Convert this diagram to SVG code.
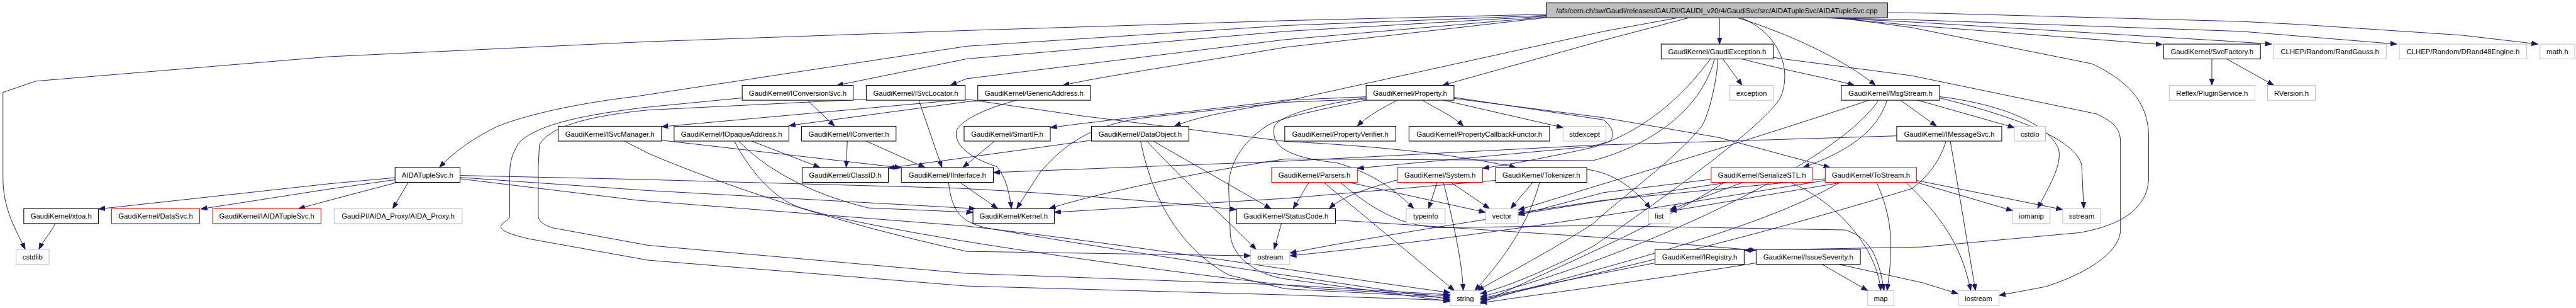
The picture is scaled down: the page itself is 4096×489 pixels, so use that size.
<svg xmlns="http://www.w3.org/2000/svg" width="4096" height="489" viewBox="0 0 4096 489">
<style>
text{font-family:"Liberation Sans",Arial,sans-serif;font-size:13px;text-anchor:middle;fill:#000}
rect{stroke-width:1.2}
.b rect{fill:#fff;stroke:#000}
.g rect{fill:#fff;stroke:#bfbfbf}
.r rect{fill:#fff;stroke:#f00}
.root rect{fill:#bfbfbf;stroke:#000}
#edges path{fill:none;stroke:#191970;stroke-width:1.1;marker-end:url(#ah)}
</style>
<defs>
<marker id="ah" markerWidth="12" markerHeight="9" refX="12" refY="4.5" orient="auto" markerUnits="userSpaceOnUse"><path d="M0,0 L12,4.5 L0,9 z" fill="#191970" stroke="#191970" stroke-width="0.8"/></marker>
</defs>
<rect x="0" y="0" width="4096" height="489" fill="#fff"/>
<g transform="scale(0.87335)">
<g id="edges">
<path d="M2815.3,26 L2340,37.5 L1760,55.4 L1180,75.7 L600,103 L65,147.5 L5.4,168 L5.4,321 C5.4,375 22,405 46,453.4"/>
<path d="M2815.3,28 L2340,46.4 L1760,84 L1160,175 C1050,188 960,208 905,230 C865,250 830,272 800,304.5"/>
<path d="M2815.3,29.5 L2340,57 L1760,107 L1523.5,155.2"/>
<path d="M2815.3,31 L2340,72 L1760,143 L1730,155.2"/>
<path d="M2815.3,32 L2340,86 C2150,118 2000,140 1935,155.2"/>
<path d="M3074,32.6 L2920,73 L2626,155.2"/>
<path d="M3053,32.6 L2920,57 L2340,184 C2240,202 2180,212 2138,229.5"/>
<path d="M3130.8,32.6 L3130.8,80.2"/>
<path d="M3164,32.6 C3260,62 3360,110 3414.7,155.2"/>
<path d="M3170,32.6 C3240,60 3265,130 3240,180 C3200,240 3000,380 2900,448 C2800,500 2730,525 2695,534"/>
<path d="M3436.5,23 L3520,24 L4080,39 L4188.6,44.6 L4482,64 L4621,80.2"/>
<path d="M3321,32.6 L3480,36 L4080,57 L4364,80.2"/>
<path d="M3332,32.6 L3480,40 L4060,75 L4136,80.2"/>
<path d="M3340,32.6 L3480,46 L3937,81"/>
<path d="M3350,32.6 L3480,50 L3809,116 C3880,150 3912,190 3912,250 L3912,321 C3912,380 3860,410 3786,423 L3500,449 L3176,455"/>
<path d="M3137,107.2 L3171.7,155.2"/>
<path d="M3171.7,107.2 C3250,128 3330,142 3376.4,155.2"/>
<path d="M3228.3,104.6 L3480,137.5 L3816.7,207 C3850,222 3860.7,235 3860.7,260 L3860.7,418 C3860,450 3820,490 3725,521 L3639.6,537"/>
<path d="M3114,107.2 C3060,180 2990,240 2900,268 C2800,290 2740,300 2699.2,306"/>
<path d="M3121.5,107.2 C3100,190 3020,260 2900,292 L2340,289 C2200,310 2000,350 1910,379.3"/>
<path d="M3127.7,107.2 C3126,150 3110,210 3099,228.6 C3050,290 2950,360 2900,407 C2800,470 2720,510 2690,528.4"/>
<path d="M4027,107.2 L4027,155.2"/>
<path d="M4054,107.2 L4140,155.2"/>
<path d="M2543.8,182.2 C2520,195 2490,210 2471,229.5"/>
<path d="M2589.8,182.2 C2610,195 2645,210 2664.4,229.5"/>
<path d="M2628,182.2 L2845.8,232"/>
<path d="M2487.2,176 L2340,182 C2200,200 2046,214 1912.2,232"/>
<path d="M2487.2,180 L2340,186 L2084,214 C1977,228 1931,271 1893,314 L1851,379.3"/>
<path d="M2487.2,178 C2400,190 2330,210 2320,230 C2315,260 2330,285 2434,296 C2500,315 2540,345 2574,379.3"/>
<path d="M2647.2,177 L2920,218 C2938,232 2940,250 2930,257 L2900,266 L2471.2,306"/>
<path d="M2647.2,179 L2920,214 L3129.6,250 L3332,304.5"/>
<path d="M2487.2,182 C2400,200 2330,214 2306,229 C2260,260 2237,300 2237,340 L2240,428 C2245,470 2290,500 2340,507 L2640.3,548"/>
<path d="M3460,182.2 L3526,229.5"/>
<path d="M3491.5,182.2 L3667.5,232"/>
<path d="M3531.3,175.7 C3640,189 3728,223 3748,271 C3755,300 3730,340 3709.6,379.3"/>
<path d="M3531.3,178 C3700,220 3780,260 3790,300 L3793.8,379.3"/>
<path d="M3435.7,182.2 C3420,230 3380,270 3282.6,304.5"/>
<path d="M3403,182.2 C3200,250 3000,310 2900,340 L2763.9,382"/>
<path d="M3420,182.2 C3350,290 3000,460 2695,540"/>
<path d="M3550.8,256.5 L3596.7,528.4"/>
<path d="M3453.3,247 L2900,264 L2340,293 L1808.5,313.6"/>
<path d="M3543,256.5 C3530,300 3500,330 3480,343 C3200,430 2900,500 2695,545"/>
<path d="M3489.3,331.5 L3664.4,383"/>
<path d="M3489.3,328 L3755.5,381"/>
<path d="M3416.6,331.5 C3447,400 3447,450 3435.7,528.4"/>
<path d="M3323.2,325 L2920,364 L2763.9,387"/>
<path d="M3323.2,328 C3000,380 2700,430 2348.3,465"/>
<path d="M3350,331.5 C3200,420 2900,490 2695,549"/>
<path d="M3355,331.5 L3040.4,384"/>
<path d="M3470,331.5 C3530,390 3570,440 3588,528.4"/>
<path d="M3173.6,331.5 L3040.4,381"/>
<path d="M3259.7,331.5 C3359,375 3420,464 3424,528.4"/>
<path d="M3115.4,326 L2920,350 L2763.9,391"/>
<path d="M3140,331.5 C3000,420 2800,500 2695,552"/>
<path d="M3146.8,331.5 L2900,368 C2700,400 2500,430 2348.3,460"/>
<path d="M2383,331.5 L2354.4,379.3"/>
<path d="M2410,331.5 L2648,528.4"/>
<path d="M2455.8,331.5 L2704.6,386"/>
<path d="M2440,331.5 C2510,390 2560,412 2626,414 L2900,410 L3359,418 C3400,430 3420,460 3430,528.4"/>
<path d="M2616.6,331.5 L2601,379.3"/>
<path d="M2628,331.5 C2650,420 2662,480 2664,528.4"/>
<path d="M2641.5,331.5 L2712,379.3"/>
<path d="M2544.2,327 C2480,345 2440,360 2420,379.3"/>
<path d="M2790.7,331.5 L2750.5,379.3"/>
<path d="M2803,331.5 C2780,420 2720,490 2685,528.4"/>
<path d="M2889,308 C2938,314 2976,343 3005,379.3"/>
<path d="M2723.3,328 L2340,360.7 L1919.5,386"/>
<path d="M1987.2,255 L1740,289 L1617.3,305.5"/>
<path d="M2076.7,256.5 C2095,350 2140,446 2237,500 L2340,525 L2640.3,541"/>
<path d="M2088,256.5 C2161,335 2237,403 2287,453.4"/>
<path d="M2099.7,256.5 L2314,379.3"/>
<path d="M1542.6,256.5 L1540.7,304.5"/>
<path d="M1577,256.5 L1684.2,304.5"/>
<path d="M1368.5,256.5 L1492.9,304.5"/>
<path d="M1345,256.5 C1390,303 1466,350 1581,378 L1771.4,386"/>
<path d="M1337,256.5 C1370,320 1420,370 1466,380 C1600,420 2000,480 2400,525 L2640.3,538"/>
<path d="M1470,182.2 L1519.7,229.5"/>
<path d="M1351.3,178 L1180,194.6 C1050,210 980,228 947,257 C930,280 928,300 928,320 L928,393 C928,400 912,405 912,412 C912,420 930,426 962,434 L1180,473 L1760,520 L2340,536 L2640.3,546"/>
<path d="M1672.8,182.2 L1714.9,304.5"/>
<path d="M1577.1,180.4 L1180,200 C1080,210 1000,228 982,264 L980,304 L980,393 C980,405 1000,414 1016,416 L1180,446 L1760,497 L2340,518 L2640.3,536"/>
<path d="M1740,182.2 L1204.4,230.4"/>
<path d="M1757.2,180 L1969.6,210.7 L2340,257 C2500,265 2650,280 2760,304.5"/>
<path d="M1204.4,255 L1641,305"/>
<path d="M1136.8,256.5 L1180,278.6 C1300,330 1500,400 1760,457 L2277.2,465"/>
<path d="M719.3,323 L600,334 L179.3,380"/>
<path d="M719.3,326.8 L600,343.6 L365.4,380"/>
<path d="M723.5,331.5 L600,364 L543.4,379.3"/>
<path d="M743.3,331.5 L715,379.3"/>
<path d="M837.5,322.5 L1180,346.4 L1776,379.3"/>
<path d="M837.5,319 L1160,326 L1740,342 C1900,350 2100,365 2251.2,381"/>
<path d="M837.5,325 L1160,364 L1760,411 C2100,450 2400,500 2640.3,532"/>
<path d="M100.3,406.3 C95,420 80,435 70.8,453.4"/>
<path d="M1810.8,256.5 L1753,304.5"/>
<path d="M1800,182.2 L1760,185 L1436.3,228.5"/>
<path d="M1852,182.2 C1800,195 1755,215 1742,236 C1735,260 1760,285 1815,303 C1830,320 1838,350 1841.4,379.3"/>
<path d="M1747.6,331.5 L1816.5,379.3"/>
<path d="M1727,331.5 C1733,385 1750,405 1800,415 C2000,450 2400,510 2640.3,544"/>
<path d="M2333,406.3 L2319.7,453.4"/>
<path d="M2431.4,400 L2920,432 L3197.3,455"/>
<path d="M3013.3,478 L2900,500 C2800,520 2730,535 2695,543"/>
<path d="M3317,480.4 L3400.5,528.4"/>
<path d="M3197.3,478 C3000,510 2800,535 2695,551"/>
<path d="M3347.7,480.4 L3500,514 L3565,534"/>
</g>
<g id="n_root" class="root"><rect x="2815.3" y="5.3" width="621.2" height="27"/><text x="3125.9" y="23.8">/afs/cern.ch/sw/Gaudi/releases/GAUDI/GAUDI_v20r4/GaudiSvc/src/AIDATupleSvc/AIDATupleSvc.cpp</text></g>
<g id="n_GaudiException" class="b"><rect x="3024.4" y="80.2" width="203.9" height="27"/><text x="3126.35" y="98.7">GaudiKernel/GaudiException.h</text></g>
<g id="n_SvcFactory" class="b"><rect x="3939.2" y="80.2" width="176.2" height="27"/><text x="4027.3" y="98.7">GaudiKernel/SvcFactory.h</text></g>
<g id="n_RandGauss" class="g"><rect x="4139.2" y="80.2" width="205.3" height="27"/><text x="4241.85" y="98.7">CLHEP/Random/RandGauss.h</text></g>
<g id="n_DRand48" class="g"><rect x="4368.2" y="80.2" width="232.2" height="27"/><text x="4484.3" y="98.7">CLHEP/Random/DRand48Engine.h</text></g>
<g id="n_math" class="g"><rect x="4624.4" y="80.2" width="63.3" height="27"/><text x="4656.05" y="98.7">math.h</text></g>
<g id="n_IConversionSvc" class="b"><rect x="1351.3" y="155.2" width="202.1" height="27"/><text x="1452.35" y="173.7">GaudiKernel/IConversionSvc.h</text></g>
<g id="n_ISvcLocator" class="b"><rect x="1577.1" y="155.2" width="180.1" height="27"/><text x="1667.15" y="173.7">GaudiKernel/ISvcLocator.h</text></g>
<g id="n_GenericAddress" class="b"><rect x="1780.2" y="155.2" width="205.1" height="27"/><text x="1882.75" y="173.7">GaudiKernel/GenericAddress.h</text></g>
<g id="n_Property" class="b"><rect x="2487.2" y="155.2" width="160" height="27"/><text x="2567.2" y="173.7">GaudiKernel/Property.h</text></g>
<g id="n_exception" class="g"><rect x="3149.5" y="155.2" width="78.8" height="27"/><text x="3188.9" y="173.7">exception</text></g>
<g id="n_MsgStream" class="b"><rect x="3352.3" y="155.2" width="179" height="27"/><text x="3441.8" y="173.7">GaudiKernel/MsgStream.h</text></g>
<g id="n_PluginService" class="g"><rect x="3949.5" y="155.2" width="155.9" height="27"/><text x="4027.45" y="173.7">Reflex/PluginService.h</text></g>
<g id="n_RVersion" class="g"><rect x="4128.3" y="155.2" width="87.2" height="27"/><text x="4171.9" y="173.7">RVersion.h</text></g>
<g id="n_ISvcManager" class="b"><rect x="1016.2" y="229.5" width="188.2" height="27"/><text x="1110.3" y="248">GaudiKernel/ISvcManager.h</text></g>
<g id="n_IOpaqueAddress" class="b"><rect x="1227.3" y="229.5" width="209" height="27"/><text x="1331.8" y="248">GaudiKernel/IOpaqueAddress.h</text></g>
<g id="n_IConverter" class="b"><rect x="1459.2" y="229.5" width="172.2" height="27"/><text x="1545.3" y="248">GaudiKernel/IConverter.h</text></g>
<g id="n_SmartIF" class="b"><rect x="1755.3" y="229.5" width="156.9" height="27"/><text x="1833.75" y="248">GaudiKernel/SmartIF.h</text></g>
<g id="n_DataObject" class="b"><rect x="1987.2" y="229.5" width="177.2" height="27"/><text x="2075.8" y="248">GaudiKernel/DataObject.h</text></g>
<g id="n_PropertyVerifier" class="b"><rect x="2339.1" y="229.5" width="202.1" height="27"/><text x="2440.15" y="248">GaudiKernel/PropertyVerifier.h</text></g>
<g id="n_PropertyCallbackFunctor" class="b"><rect x="2565.3" y="229.5" width="256" height="27"/><text x="2693.3" y="248">GaudiKernel/PropertyCallbackFunctor.h</text></g>
<g id="n_stdexcept" class="g"><rect x="2845.8" y="229.5" width="78.3" height="27"/><text x="2884.95" y="248">stdexcept</text></g>
<g id="n_IMessageSvc" class="b"><rect x="3453.3" y="229.5" width="191.2" height="27"/><text x="3548.9" y="248">GaudiKernel/IMessageSvc.h</text></g>
<g id="n_cstdio" class="g"><rect x="3667.5" y="229.5" width="56.6" height="27"/><text x="3695.8" y="248">cstdio</text></g>
<g id="n_AIDATupleSvc" class="b"><rect x="719.3" y="304.5" width="118.2" height="27"/><text x="778.4" y="323">AIDATupleSvc.h</text></g>
<g id="n_ClassID" class="b"><rect x="1460.4" y="304.5" width="156.9" height="27"/><text x="1538.85" y="323">GaudiKernel/ClassID.h</text></g>
<g id="n_IInterface" class="b"><rect x="1641" y="304.5" width="167.5" height="27"/><text x="1724.75" y="323">GaudiKernel/IInterface.h</text></g>
<g id="n_Parsers" class="r"><rect x="2315.1" y="304.5" width="156.1" height="27"/><text x="2393.15" y="323">GaudiKernel/Parsers.h</text></g>
<g id="n_System" class="r"><rect x="2544.2" y="304.5" width="155" height="27"/><text x="2621.7" y="323">GaudiKernel/System.h</text></g>
<g id="n_Tokenizer" class="b"><rect x="2723.3" y="304.5" width="165.7" height="27"/><text x="2806.15" y="323">GaudiKernel/Tokenizer.h</text></g>
<g id="n_SerializeSTL" class="r"><rect x="3115.4" y="304.5" width="184.9" height="27"/><text x="3207.85" y="323">GaudiKernel/SerializeSTL.h</text></g>
<g id="n_ToStream" class="r"><rect x="3323.2" y="304.5" width="166.1" height="27"/><text x="3406.25" y="323">GaudiKernel/ToStream.h</text></g>
<g id="n_xtoa" class="b"><rect x="43.3" y="379.3" width="136" height="27"/><text x="111.3" y="397.8">GaudiKernel/xtoa.h</text></g>
<g id="n_DataSvc" class="r"><rect x="203.2" y="379.3" width="160.3" height="27"/><text x="283.35" y="397.8">GaudiKernel/DataSvc.h</text></g>
<g id="n_IAIDATupleSvc" class="r"><rect x="387.2" y="379.3" width="197.1" height="27"/><text x="485.75" y="397.8">GaudiKernel/IAIDATupleSvc.h</text></g>
<g id="n_AIDA_Proxy" class="g"><rect x="608.3" y="379.3" width="233.1" height="27"/><text x="724.85" y="397.8">GaudiPI/AIDA_Proxy/AIDA_Proxy.h</text></g>
<g id="n_Kernel" class="b"><rect x="1771.4" y="379.3" width="148.1" height="27"/><text x="1845.45" y="397.8">GaudiKernel/Kernel.h</text></g>
<g id="n_StatusCode" class="b"><rect x="2251.2" y="379.3" width="180.2" height="27"/><text x="2341.3" y="397.8">GaudiKernel/StatusCode.h</text></g>
<g id="n_typeinfo" class="g"><rect x="2560.3" y="379.3" width="70.8" height="27"/><text x="2595.7" y="397.8">typeinfo</text></g>
<g id="n_vector" class="g"><rect x="2704.6" y="379.3" width="59.3" height="27"/><text x="2734.25" y="397.8">vector</text></g>
<g id="n_list" class="g"><rect x="3001.4" y="379.3" width="39" height="27"/><text x="3020.9" y="397.8">list</text></g>
<g id="n_iomanip" class="g"><rect x="3664.4" y="379.3" width="68.1" height="27"/><text x="3698.45" y="397.8">iomanip</text></g>
<g id="n_sstream" class="g"><rect x="3755.5" y="379.3" width="68.9" height="27"/><text x="3789.95" y="397.8">sstream</text></g>
<g id="n_cstdlib" class="g"><rect x="29.3" y="453.4" width="60" height="27"/><text x="59.3" y="471.9">cstdlib</text></g>
<g id="n_ostream" class="g"><rect x="2277.2" y="453.4" width="71.1" height="27"/><text x="2312.75" y="471.9">ostream</text></g>
<g id="n_IRegistry" class="b"><rect x="3013.3" y="453.4" width="162.2" height="27"/><text x="3094.4" y="471.9">GaudiKernel/IRegistry.h</text></g>
<g id="n_IssueSeverity" class="b"><rect x="3197.3" y="453.4" width="189.8" height="27"/><text x="3292.2" y="471.9">GaudiKernel/IssueSeverity.h</text></g>
<g id="n_string" class="g"><rect x="2640.3" y="528.4" width="54.7" height="27"/><text x="2667.65" y="546.9">string</text></g>
<g id="n_map" class="g"><rect x="3400.5" y="528.4" width="47.5" height="27"/><text x="3424.25" y="546.9">map</text></g>
<g id="n_iostream" class="g"><rect x="3565" y="528.4" width="74.6" height="27"/><text x="3602.3" y="546.9">iostream</text></g>
</g>
</svg>
